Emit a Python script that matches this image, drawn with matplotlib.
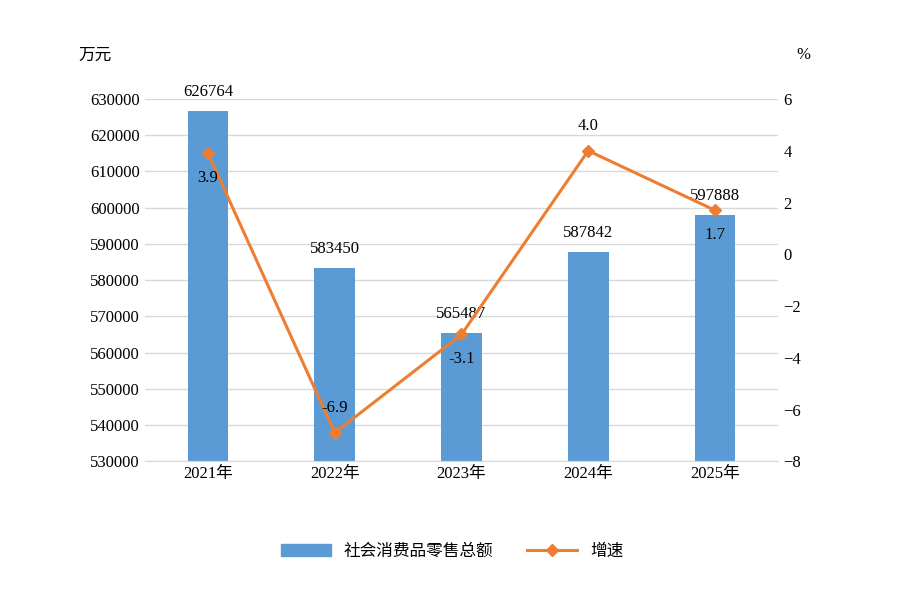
import matplotlib
matplotlib.use("Agg")
import matplotlib.pyplot as plt
from matplotlib.lines import Line2D
from matplotlib.patches import Patch

years = ["2021年", "2022年", "2023年", "2024年", "2025年"]
sales = [626764, 583450, 565487, 587842, 597888]
growth = [3.9, -6.9, -3.1, 4.0, 1.7]
growth_offsets = [-1, 1, -1, 1, -1]  # label below(-1)/above(1)

plt.rcParams['font.family'] = ['Liberation Serif', 'Noto Sans CJK SC']
fig = plt.figure(figsize=(9.04, 6.15), dpi=100)
ax = fig.add_axes([0.160, 0.250, 0.701, 0.589])
x = list(range(len(years)))
ax.bar(x, sales, width=0.32, color='#5B9BD5', zorder=2)
ax.set_ylim(530000, 630000)
ax.set_yticks(range(530000, 630001, 10000))
ax.set_xlim(-0.5, 4.5)
ax.set_xticks(x)
ax.set_xticklabels(years, fontsize=12)
ax.tick_params(axis='both', length=0, labelsize=12)
ax.grid(axis='y', color='#D9D9D9', linewidth=1, zorder=0)
for s in ['top', 'left', 'right']:
    ax.spines[s].set_visible(False)
ax.spines['bottom'].set_color('#D9D9D9')
for xi, v in zip(x, sales):
    ax.annotate(f"{v}", (xi, v), xytext=(0, 8), textcoords='offset points',
                ha='center', va='bottom', fontsize=12)

ax2 = ax.twinx()
ax2.plot(x, growth, color='#ED7D31', linewidth=2.2, marker='D', markersize=6, zorder=3)
ax2.set_ylim(-8, 6)
ax2.set_yticks(range(-8, 7, 2))
ax2.tick_params(axis='y', length=0, labelsize=12)
for s in ax2.spines.values():
    s.set_visible(False)
for xi, g, o in zip(x, growth, growth_offsets):
    ax2.annotate(f"{g:.1f}", (xi, g), xytext=(0, 12 * o), textcoords='offset points',
                 ha='center', va='bottom' if o > 0 else 'top', fontsize=12)

fig.text(95 / 904, 1 - 55 / 615, "万元", ha='center', va='center', fontsize=12,
         family=['Noto Sans CJK SC'])
fig.text(803 / 904, 1 - 55 / 615, "%", ha='center', va='center', fontsize=12)

handles = [Patch(color='#5B9BD5'),
           Line2D([0], [0], color='#ED7D31', lw=2.2, marker='D', markersize=6)]
fig.legend(handles, ["社会消费品零售总额", "增速"], loc='center',
           bbox_to_anchor=(0.5, 1 - 551 / 615), ncol=2, frameon=False,
           prop={'family': ['Noto Sans CJK SC'], 'size': 12}, handlelength=3, columnspacing=2)
fig.savefig("out.png", dpi=100)
